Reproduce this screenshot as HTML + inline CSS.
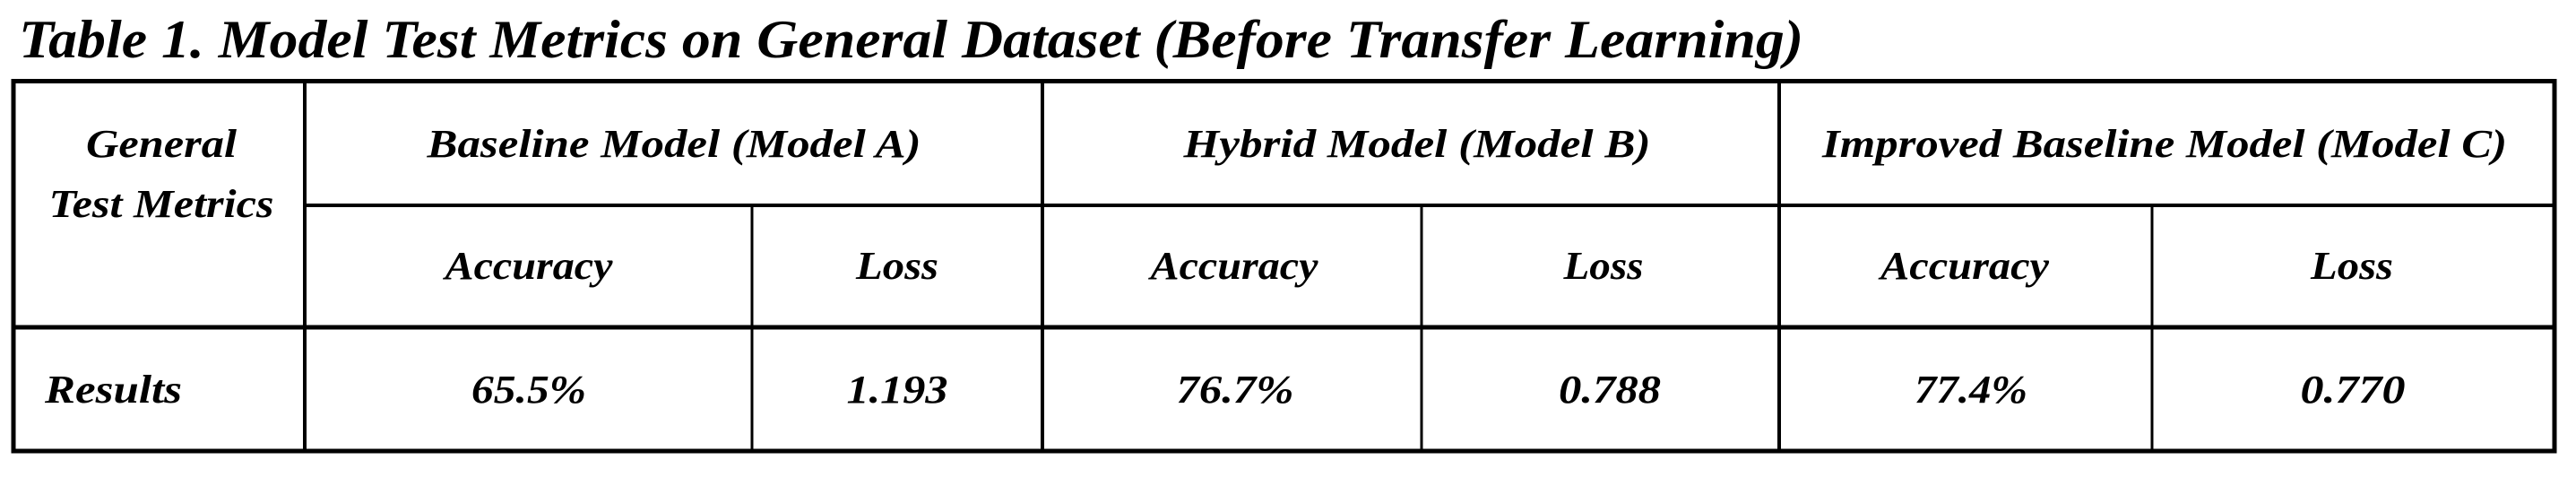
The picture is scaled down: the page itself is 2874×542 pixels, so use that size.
<!DOCTYPE html>
<html><head><meta charset="utf-8"><style>
html,body{margin:0;padding:0;background:#fff;width:2874px;height:542px;overflow:hidden}
svg text{font-family:"Liberation Serif",serif;font-weight:bold;font-style:italic;fill:#000}
</style></head><body>
<svg width="2874" height="542" viewBox="0 0 2874 542">
<text x="21" y="64" font-size="60" textLength="1991" lengthAdjust="spacingAndGlyphs">Table 1.  Model Test Metrics on General Dataset (Before Transfer Learning)</text>
<g stroke="#000" fill="none">
<rect x="15" y="90.5" width="2835" height="412.5" stroke-width="5"/>
<line x1="340" y1="90" x2="340" y2="503" stroke-width="4"/>
<line x1="1163" y1="90" x2="1163" y2="503" stroke-width="4"/>
<line x1="1985" y1="90" x2="1985" y2="503" stroke-width="4"/>
<line x1="839" y1="229" x2="839" y2="503" stroke-width="3"/>
<line x1="1586" y1="229" x2="1586" y2="503" stroke-width="3"/>
<line x1="2401" y1="229" x2="2401" y2="503" stroke-width="3"/>
<line x1="340" y1="229" x2="2850" y2="229" stroke-width="4"/>
<line x1="15" y1="365" x2="2850" y2="365" stroke-width="5"/>
</g>
<g font-size="44" text-anchor="middle">
<text x="180" y="175" textLength="168" lengthAdjust="spacingAndGlyphs">General</text>
<text x="180" y="242" textLength="251" lengthAdjust="spacingAndGlyphs">Test Metrics</text>
<text x="752" y="175" textLength="551" lengthAdjust="spacingAndGlyphs">Baseline Model (Model A)</text>
<text x="1581" y="175" textLength="521" lengthAdjust="spacingAndGlyphs">Hybrid Model (Model B)</text>
<text x="2415" y="175" textLength="764" lengthAdjust="spacingAndGlyphs">Improved Baseline Model (Model C)</text>
<text x="590" y="311" textLength="187" lengthAdjust="spacingAndGlyphs">Accuracy</text>
<text x="1001" y="311" textLength="92" lengthAdjust="spacingAndGlyphs">Loss</text>
<text x="1377" y="311" textLength="187" lengthAdjust="spacingAndGlyphs">Accuracy</text>
<text x="1789" y="311" textLength="89" lengthAdjust="spacingAndGlyphs">Loss</text>
<text x="2192" y="311" textLength="188" lengthAdjust="spacingAndGlyphs">Accuracy</text>
<text x="2624" y="311" textLength="92" lengthAdjust="spacingAndGlyphs">Loss</text>
<text x="590" y="449" textLength="128" lengthAdjust="spacingAndGlyphs">65.5%</text>
<text x="1001" y="449" textLength="113" lengthAdjust="spacingAndGlyphs">1.193</text>
<text x="1378" y="449" textLength="131" lengthAdjust="spacingAndGlyphs">76.7%</text>
<text x="1796" y="449" textLength="114" lengthAdjust="spacingAndGlyphs">0.788</text>
<text x="2199" y="449" textLength="126" lengthAdjust="spacingAndGlyphs">77.4%</text>
<text x="2625" y="449" textLength="117" lengthAdjust="spacingAndGlyphs">0.770</text>
</g>
<text x="50" y="449" font-size="44" textLength="153" lengthAdjust="spacingAndGlyphs">Results</text>
</svg>
</body></html>
